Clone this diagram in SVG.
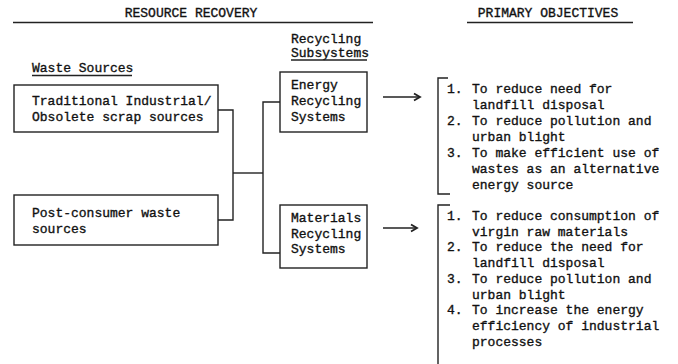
<svg xmlns="http://www.w3.org/2000/svg" width="678" height="364" viewBox="0 0 678 364">
  <style>
    text { font-family: "Liberation Mono", "Courier New", monospace; font-size: 13px; fill: #111; stroke: #111; stroke-width: 0.35; }
    .box { fill: #fff; stroke: #222; stroke-width: 1.4; }
    .ln { fill: none; stroke: #222; stroke-width: 1.4; }
    .arrow { fill: none; stroke: #222; stroke-width: 1.4; }
  </style>
  <defs>
    <marker id="head" markerWidth="10" markerHeight="10" refX="8" refY="5" orient="auto" markerUnits="userSpaceOnUse">
      <path d="M2,1.5 L8,5 L2,8.5" fill="none" stroke="#222" stroke-width="1.8"/>
    </marker>
  </defs>

  <rect width="678" height="364" fill="#fff"/>

  <!-- column headings -->
  <g id="headings">
    <text x="191" y="17" text-anchor="middle">RESOURCE RECOVERY</text>
    <line class="ln" x1="13" y1="22.5" x2="373" y2="22.5"/>
    <text x="548" y="17" text-anchor="middle">PRIMARY OBJECTIVES</text>
    <line class="ln" x1="467" y1="22.5" x2="633" y2="22.5"/>
    <text x="291" y="43">Recycling</text>
    <text x="291" y="57">Subsystems</text>
    <line class="ln" x1="291" y1="60" x2="367" y2="60"/>
    <text x="32" y="72">Waste Sources</text>
    <line class="ln" x1="32" y1="75.5" x2="132" y2="75.5"/>
  </g>

  <!-- connectors -->
  <g id="connectors">
    <polyline class="ln" points="218,110 233,110 233,220 218,220"/>
    <line class="ln" x1="233" y1="173" x2="263" y2="173"/>
    <polyline class="ln" points="280,102 263,102 263,253 280,253"/>
    <line class="arrow" x1="383" y1="97" x2="420" y2="97" marker-end="url(#head)"/>
    <line class="arrow" x1="383" y1="228" x2="417" y2="228" marker-end="url(#head)"/>
  </g>

  <!-- waste sources -->
  <g id="traditional-sources">
    <rect class="box" x="14" y="85" width="204" height="47"/>
    <text x="32" y="105">Traditional Industrial/</text>
    <text x="32" y="121">Obsolete scrap sources</text>
  </g>
  <g id="post-consumer-sources">
    <rect class="box" x="14" y="195" width="204" height="50"/>
    <text x="32" y="217">Post-consumer waste</text>
    <text x="32" y="233">sources</text>
  </g>

  <!-- recycling subsystems -->
  <g id="energy-recycling">
    <rect class="box" x="280" y="72" width="87" height="60"/>
    <text x="291" y="89">Energy</text>
    <text x="291" y="105">Recycling</text>
    <text x="291" y="121">Systems</text>
  </g>
  <g id="materials-recycling">
    <rect class="box" x="280" y="205" width="87" height="63"/>
    <text x="291" y="222">Materials</text>
    <text x="291" y="238">Recycling</text>
    <text x="291" y="253">Systems</text>
  </g>

  <!-- objectives of energy recycling -->
  <g id="energy-objectives">
    <polyline class="ln" points="448,78 438,78 438,194 450,194"/>
    <text x="447" y="93">1.</text><text x="472" y="93">To reduce need for</text>
    <text x="472" y="109">landfill disposal</text>
    <text x="447" y="125">2.</text><text x="472" y="125">To reduce pollution and</text>
    <text x="472" y="141">urban blight</text>
    <text x="447" y="157">3.</text><text x="472" y="157">To make efficient use of</text>
    <text x="472" y="173">wastes as an alternative</text>
    <text x="472" y="189">energy source</text>
  </g>

  <!-- objectives of materials recycling -->
  <g id="materials-objectives">
    <polyline class="ln" points="450,205 438,205 438,364"/>
    <text x="447" y="220">1.</text><text x="472" y="220">To reduce consumption of</text>
    <text x="472" y="236">virgin raw materials</text>
    <text x="447" y="251">2.</text><text x="472" y="251">To reduce the need for</text>
    <text x="472" y="267">landfill disposal</text>
    <text x="447" y="283">3.</text><text x="472" y="283">To reduce pollution and</text>
    <text x="472" y="299">urban blight</text>
    <text x="447" y="314">4.</text><text x="472" y="314">To increase the energy</text>
    <text x="472" y="330">efficiency of industrial</text>
    <text x="472" y="346">processes</text>
  </g>
</svg>
